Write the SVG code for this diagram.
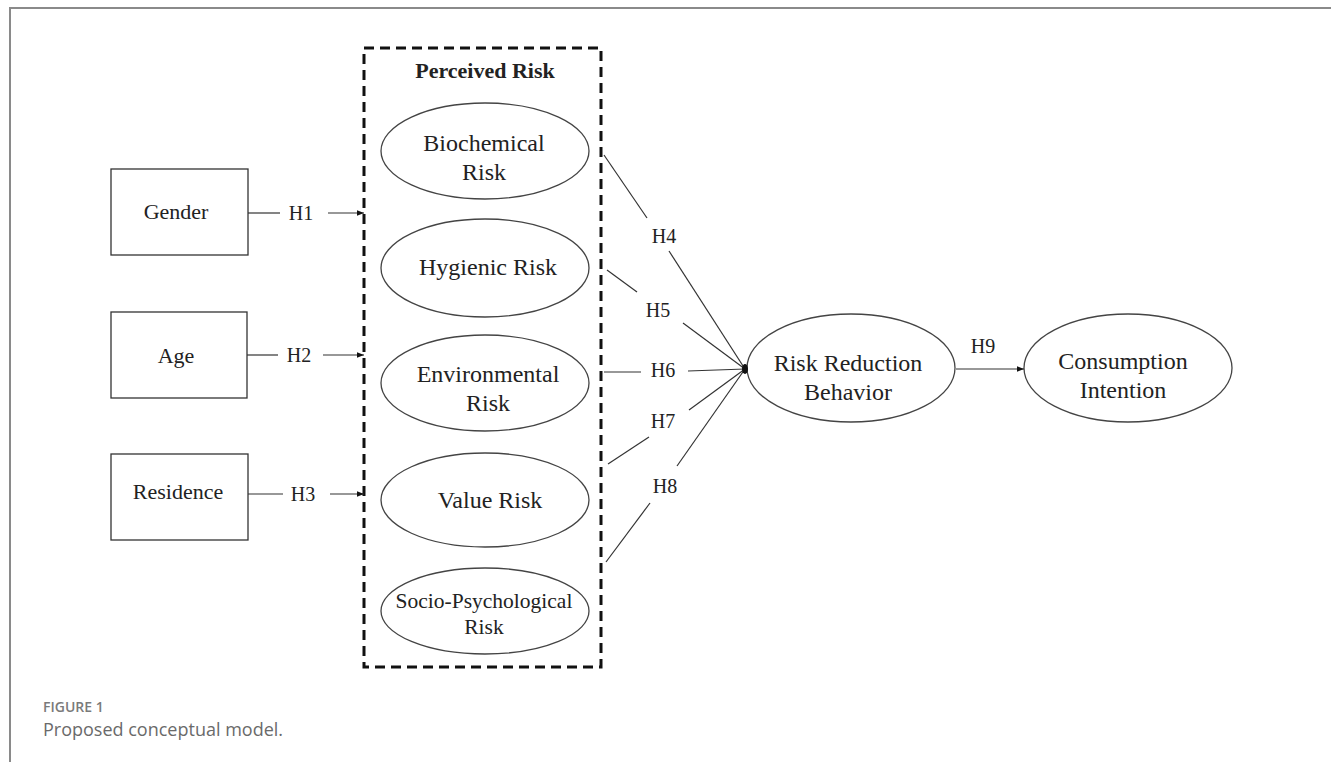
<svg xmlns="http://www.w3.org/2000/svg" width="1331" height="762" viewBox="0 0 1331 762">
<defs>
<marker id="arr" viewBox="0 0 10 10" refX="10" refY="5" markerWidth="7" markerHeight="7" markerUnits="userSpaceOnUse" orient="auto">
<path d="M0,1 L10,5 L0,9 Z" fill="#111"/>
</marker>
</defs>
<style>
.frame{stroke:#8a8a8a;stroke-width:2;fill:none}
.box{fill:#fff;stroke:#333;stroke-width:1.3}
.ell{fill:#fff;stroke:#444;stroke-width:1.3}
.t{font-family:"Liberation Serif","Times New Roman",serif;font-size:24px;fill:#222;text-anchor:middle}
.s{font-size:22px}
.h{font-family:"Liberation Serif","Times New Roman",serif;font-size:20px;fill:#222;text-anchor:middle}
.ln{stroke:#333;stroke-width:1.2;fill:none}
.cap1{font-family:"Open Sans","Noto Sans",sans-serif;font-size:14px;font-weight:600;fill:#7a7a7a}
.cap2{font-family:"Open Sans","Noto Sans",sans-serif;font-size:18px;fill:#6a6a6a}
</style>
<rect width="1331" height="762" fill="#fff"/>
<path class="frame" d="M10,762 L10,8 L1331,8"/>

<g id="perceived-risk">
<rect x="364" y="48" width="237" height="619" fill="none" stroke="#111" stroke-width="3" stroke-dasharray="10,6"/>
<text x="485" y="78" class="t" style="font-weight:bold;font-size:22px">Perceived Risk</text>
</g>

<g id="gender"><rect class="box" x="111" y="169" width="137" height="86"/><text class="t s" x="176" y="219">Gender</text></g>
<g id="age"><rect class="box" x="111" y="312" width="136" height="86"/><text class="t s" x="176" y="363">Age</text></g>
<g id="residence"><rect class="box" x="111" y="454" width="137" height="86"/><text class="t s" x="178" y="499">Residence</text></g>

<g id="biochemical"><ellipse class="ell" cx="485" cy="151" rx="104" ry="48"/><text class="t" x="484" y="151">Biochemical</text><text class="t" x="484" y="180">Risk</text></g>
<g id="hygienic"><ellipse class="ell" cx="485" cy="268" rx="104" ry="49"/><text class="t" x="488" y="275">Hygienic Risk</text></g>
<g id="environmental"><ellipse class="ell" cx="485" cy="383" rx="104" ry="48"/><text class="t" x="488" y="382">Environmental</text><text class="t" x="488" y="411">Risk</text></g>
<g id="value"><ellipse class="ell" cx="485" cy="500" rx="104" ry="47"/><text class="t" x="490" y="508">Value Risk</text></g>
<g id="socio"><ellipse class="ell" cx="485" cy="611" rx="104" ry="43"/><text class="t" style="font-size:21.5px" x="484" y="608">Socio-Psychological</text><text class="t" style="font-size:21.5px" x="484" y="634">Risk</text></g>

<g id="risk-reduction"><ellipse class="ell" cx="851" cy="368" rx="104" ry="54"/><text class="t" x="848" y="371">Risk Reduction</text><text class="t" x="848" y="400">Behavior</text></g>
<g id="consumption"><ellipse class="ell" cx="1128" cy="368" rx="104" ry="54"/><text class="t" x="1123" y="369">Consumption</text><text class="t" x="1123" y="398">Intention</text></g>

<g id="connectors">
<line class="ln" x1="248" y1="213" x2="280" y2="213"/>
<text class="h" x="301" y="220">H1</text>
<line class="ln" x1="328" y1="213" x2="364" y2="213" marker-end="url(#arr)"/>

<line class="ln" x1="247" y1="355" x2="278" y2="355"/>
<text class="h" x="299" y="362">H2</text>
<line class="ln" x1="323" y1="355" x2="364" y2="355" marker-end="url(#arr)"/>

<line class="ln" x1="248" y1="494" x2="283" y2="494"/>
<text class="h" x="303" y="501">H3</text>
<line class="ln" x1="330" y1="494" x2="364" y2="494" marker-end="url(#arr)"/>

<line class="ln" x1="604" y1="155" x2="647" y2="218"/>
<text class="h" x="664" y="243">H4</text>
<line class="ln" x1="669" y1="251" x2="745" y2="369"/>

<line class="ln" x1="607" y1="270" x2="637" y2="292"/>
<text class="h" x="658" y="317">H5</text>
<line class="ln" x1="683" y1="323" x2="745" y2="369"/>

<line class="ln" x1="604" y1="372" x2="641" y2="372"/>
<text class="h" x="663" y="377">H6</text>
<line class="ln" x1="688" y1="371" x2="745" y2="369"/>

<line class="ln" x1="608" y1="464" x2="649" y2="437"/>
<text class="h" x="663" y="428">H7</text>
<line class="ln" x1="689" y1="410" x2="745" y2="369"/>

<line class="ln" x1="606" y1="562" x2="650" y2="503"/>
<text class="h" x="665" y="493">H8</text>
<line class="ln" x1="677" y1="466" x2="745" y2="369"/>

<ellipse cx="745" cy="369" rx="3" ry="5" fill="#111"/>

<line class="ln" x1="956" y1="369" x2="1024" y2="369" marker-end="url(#arr)"/>
<text class="h" x="983" y="353">H9</text>
</g>

<text class="cap1" x="43" y="712">FIGURE 1</text>
<text class="cap2" x="43" y="736">Proposed conceptual model.</text>
</svg>
